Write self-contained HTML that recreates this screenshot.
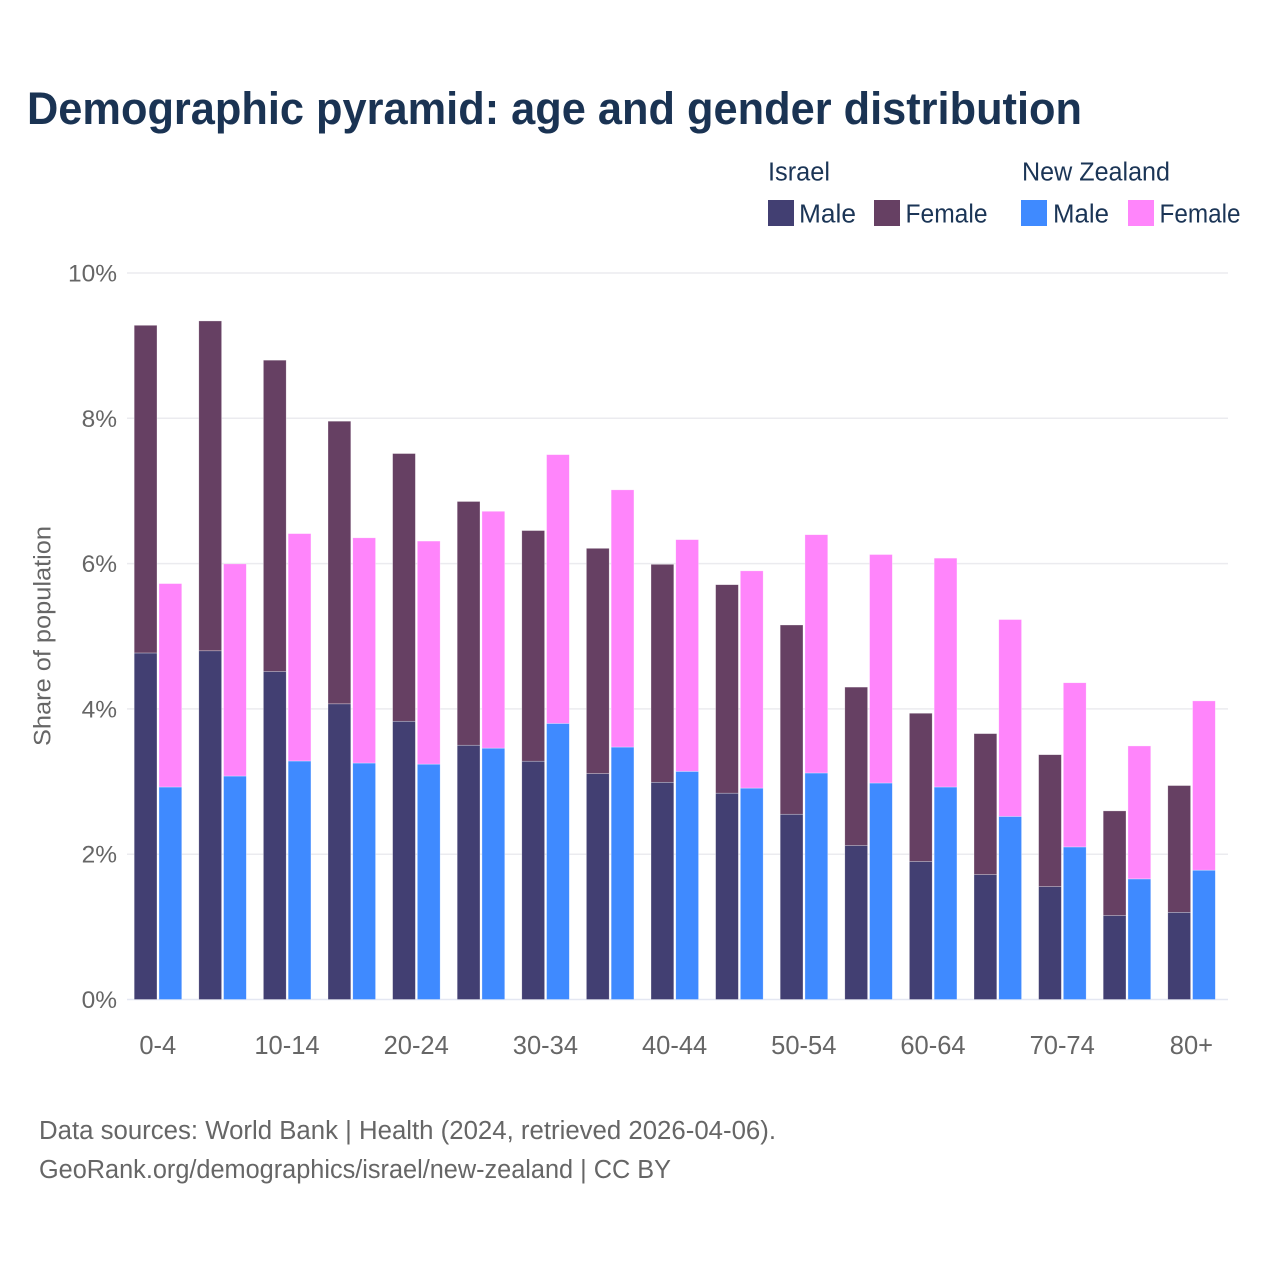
<!DOCTYPE html>
<html lang="en">
<head>
<meta charset="utf-8">
<title>Demographic pyramid: age and gender distribution</title>
<style>
html,body{margin:0;padding:0;background:#fff;width:1280px;height:1280px;overflow:hidden}
svg{display:block;font-family:"Liberation Sans",sans-serif}
</style>
</head>
<body>
<svg id="chart" xmlns="http://www.w3.org/2000/svg" width="1280" height="1280" viewBox="0 0 1280 1280">
  <rect x="0" y="0" width="1280" height="1280" fill="#ffffff"/>
  <text x="27" y="124" font-size="45.5" font-weight="700" fill="#1a3353" textLength="1055" lengthAdjust="spacingAndGlyphs">Demographic pyramid: age and gender distribution</text>

  <g font-size="25.5" fill="#1b3556">
    <text x="768" y="180.5" textLength="62" lengthAdjust="spacingAndGlyphs">Israel</text>
    <text x="1022" y="180.5" textLength="148" lengthAdjust="spacingAndGlyphs">New Zealand</text>
    <rect x="768" y="200" width="26" height="26" fill="#423f72"/>
    <text x="799" y="222.5" textLength="57" lengthAdjust="spacingAndGlyphs">Male</text>
    <rect x="874" y="200" width="26" height="26" fill="#664063"/>
    <text x="905.5" y="222.5" textLength="82" lengthAdjust="spacingAndGlyphs">Female</text>
    <rect x="1021" y="200" width="26" height="26" fill="#3f8aff"/>
    <text x="1053" y="222.5" textLength="56" lengthAdjust="spacingAndGlyphs">Male</text>
    <rect x="1128" y="200" width="26" height="26" fill="#ff85fb"/>
    <text x="1159.5" y="222.5" textLength="81" lengthAdjust="spacingAndGlyphs">Female</text>
  </g>

  <g id="grid"></g>
  <g id="yticks"></g>
  <g id="bars"></g>
  <g id="xticks"></g>

  <text transform="translate(50.5,636) rotate(-90)" text-anchor="middle" font-size="24.5" fill="#666666" textLength="220" lengthAdjust="spacingAndGlyphs">Share of population</text>

  <g font-size="25.5" fill="#666666">
    <text x="39" y="1139" textLength="737" lengthAdjust="spacingAndGlyphs">Data sources: World Bank | Health (2024, retrieved 2026-04-06).</text>
    <text x="39" y="1178" textLength="632" lengthAdjust="spacingAndGlyphs">GeoRank.org/demographics/israel/new-zealand | CC BY</text>
  </g>
</svg>
<script>
const categories = ["0-4","5-9","10-14","15-19","20-24","25-29","30-34","35-39","40-44","45-49","50-54","55-59","60-64","65-69","70-74","75-79","80+"];
const xTickLabels = ["0-4","","10-14","","20-24","","30-34","","40-44","","50-54","","60-64","","70-74","","80+"];
const yTickValues = [0,2,4,6,8,10];
const israelMale = [4.77,4.80,4.515,4.07,3.83,3.50,3.28,3.11,2.99,2.84,2.55,2.12,1.90,1.72,1.555,1.156,1.20];
const israelFemale = [4.51,4.54,4.285,3.89,3.685,3.355,3.175,3.10,3.00,2.87,2.605,2.18,2.04,1.94,1.815,1.44,1.745];
const newZealandMale = [2.925,3.076,3.283,3.255,3.24,3.46,3.80,3.475,3.14,2.91,3.118,2.98,2.925,2.52,2.10,1.66,1.78];
const newZealandFemale = [2.80,2.92,3.13,3.10,3.07,3.26,3.70,3.54,3.19,2.99,3.28,3.145,3.15,2.71,2.26,1.83,2.33];

const SVG_NS = "http://www.w3.org/2000/svg";
const yScale = function (v) { return 999.5 - v * 72.65; };
const groupStep = 64.6;
const groupLeft = function (i) { return 134.2 + i * groupStep; };
const barWidth = 22.8;
const barGap = 24.75;

const gridGroup = document.getElementById("grid");
const yTickGroup = document.getElementById("yticks");
const barGroup = document.getElementById("bars");
const xTickGroup = document.getElementById("xticks");

yTickValues.forEach(function (v) {
  const line = document.createElementNS(SVG_NS, "line");
  
  
  line.setAttribute("x1", 127);
  line.setAttribute("x2", 1228);
  line.setAttribute("y1", yScale(v));
  line.setAttribute("y2", yScale(v));
  line.setAttribute("stroke", v === 0 ? "#e4e7f2" : "#ebebef");
  line.setAttribute("stroke-width", 1.5);
  gridGroup.appendChild(line);

  const label = document.createElementNS(SVG_NS, "text");
  
  
  label.setAttribute("x", 117);
  label.setAttribute("y", yScale(v) + 8.5);
  label.setAttribute("text-anchor", "end");
  label.setAttribute("font-size", 24.5);
  label.setAttribute("fill", "#666666");
  label.textContent = v + "%";
  yTickGroup.appendChild(label);
});

function addBar(name, x, base, value, fill) {
  const rect = document.createElementNS(SVG_NS, "rect");
  
  
  rect.setAttribute("x", x);
  rect.setAttribute("y", yScale(base + value));
  rect.setAttribute("width", barWidth);
  rect.setAttribute("height", yScale(base) - yScale(base + value));
  rect.setAttribute("fill", fill);
  rect.setAttribute("stroke", "#ffffff");
  rect.setAttribute("stroke-opacity", "0.5");
  rect.setAttribute("stroke-width", "0.6");
  barGroup.appendChild(rect);
}

categories.forEach(function (cat, i) {
  const x0 = groupLeft(i);
  addBar("bar-israel-male-" + cat, x0, 0, israelMale[i], "#423f72");
  addBar("bar-israel-female-" + cat, x0, israelMale[i], israelFemale[i], "#664063");
  addBar("bar-new-zealand-male-" + cat, x0 + barGap, 0, newZealandMale[i], "#3f8aff");
  addBar("bar-new-zealand-female-" + cat, x0 + barGap, newZealandMale[i], newZealandFemale[i], "#ff85fb");

  if (xTickLabels[i]) {
    const tick = document.createElementNS(SVG_NS, "text");
    
    
    tick.setAttribute("x", x0 + 23.6);
    tick.setAttribute("y", 1054);
    tick.setAttribute("text-anchor", "middle");
    tick.setAttribute("font-size", 25.5);
    tick.setAttribute("fill", "#666666");
    tick.textContent = xTickLabels[i];
    xTickGroup.appendChild(tick);
  }
});
</script>
</body>
</html>
